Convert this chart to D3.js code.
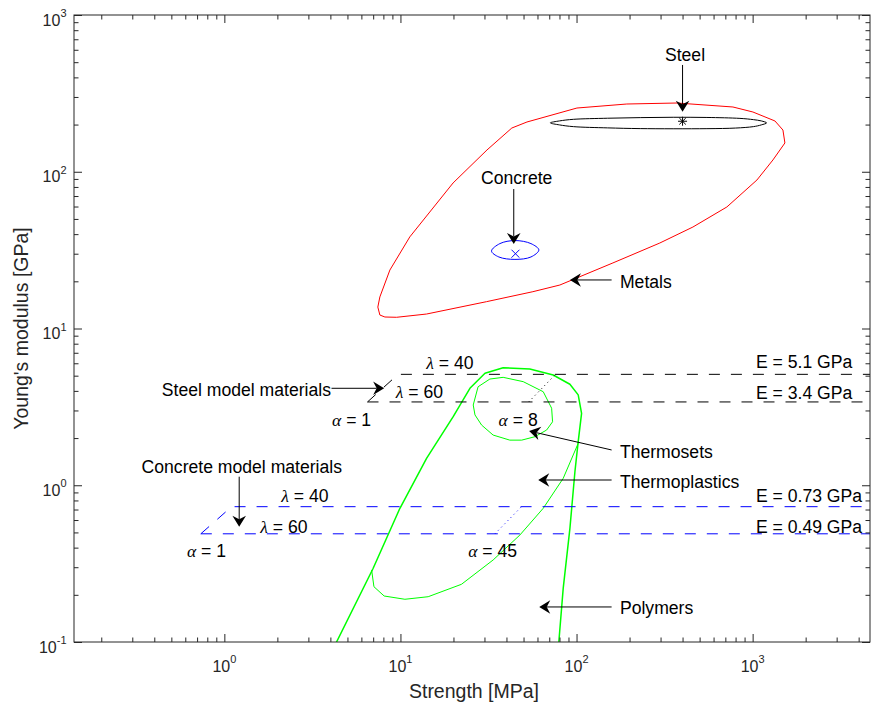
<!DOCTYPE html>
<html>
<head>
<meta charset="utf-8">
<script src="https://cdn.jsdelivr.net/npm/d3@7"></script>
<style>
  html, body { margin: 0; padding: 0; background: #fff; }
  svg { display: block; font-family: "Liberation Sans", Arial, Helvetica, sans-serif; }
</style>
</head>
<body>
<svg id="chart" width="872" height="706"></svg>
<script>
// ---- axis limits and ticks (strength in MPa, Young's modulus in GPa) ----
const xLimits = [0.14, 4640];
const yLimits = [0.1, 1000];
const xMajorTicks = [1, 10, 100, 1000];
const xTickExponents = ["0", "1", "2", "3"];
const yMajorTicks = [0.1, 1, 10, 100, 1000];
const yTickExponents = ["-1", "0", "1", "2", "3"];

// ---- material property regions ----
const metalsStrength = [7.44, 7.64, 8.16, 9.51, 14.07, 30.8, 56.5, 80.4, 160.9, 297, 458, 714, 1058, 1304, 1525, 1486, 1339, 1004, 773, 372, 193, 100.5, 52.3, 42.9, 31.0, 19.9, 11.3, 8.71, 7.64];
const metalsModulus  = [13.7, 12.19, 11.84, 11.79, 12.37, 14.83, 17.17, 18.94, 26.2, 35.1, 44.4, 59.6, 88.6, 118.9, 152.6, 184.6, 210.8, 240.5, 258.9, 274.5, 270.5, 255, 207.7, 190.1, 137.7, 84.8, 38.4, 23.6, 15.9];

const steelRangeStrength = [71, 80, 96, 150, 230, 354, 550, 847, 1010, 1120, 1200, 1120, 1010, 800, 550, 230, 150, 96, 80];
const steelRangeModulus  = [205, 211, 216, 219.5, 221.5, 222.6, 222, 219, 215, 211, 205, 199, 194, 190, 188.3, 188.5, 190.5, 194, 199];

const concreteRangeStrength = [32.9, 36.7, 44.7, 55.1, 61.1, 55.1, 44.7, 36.2];
const concreteRangeModulus  = [31.2, 34.8, 36.4, 34.8, 31.7, 28.6, 27.6, 28.6];

const polymersStrength = [4.2, 7.0, 9.93, 14.07, 19.93, 24.8, 30.2, 38.3, 54.3, 73.7, 91.7, 102.2, 106.8, 102.2, 97.9, 91.7, 84.0, 78.9];
const polymersModulus  = [0.093, 0.2953, 0.713, 1.486, 2.737, 4.155, 5.18, 5.62, 5.51, 5.05, 4.41, 3.77, 2.877, 1.896, 1.22, 0.531, 0.22, 0.093];

const thermosetsStrength = [25.9, 27.6, 32.2, 38.3, 49.8, 64.7, 72.2, 73.1, 67.6, 58.0, 48.8, 41.8, 33.6, 28.9, 26.5];
const thermosetsModulus  = [3.25, 4.25, 4.76, 4.88, 4.58, 3.95, 3.10, 2.54, 2.25, 2.04, 1.94, 1.94, 2.09, 2.42, 2.81];

const thermoplasticsStrength = [6.86, 7.07, 8.08, 10.6, 14.37, 22.2, 33.6, 47.7, 64.7, 84.0, 102.2];
const thermoplasticsModulus  = [0.288, 0.2253, 0.1965, 0.1873, 0.1945, 0.2334, 0.3336, 0.4817, 0.713, 1.107, 1.852];

// ---- reference materials ----
const steelPoint = [400, 210];
const concretePoint = [45, 30];

// ---- model material lines: [lambda = 60, lambda = 40] ----
const steelModelE = [3.4, 5.1];
const steelModelStrengthAlpha1 = [6.5, 9.7];
const steelModelStrengthAlpha8 = [53.5, 76];
const concreteModelE = [0.49, 0.73];
const concreteModelStrengthAlpha1 = [0.735, 1.1];
const concreteModelStrengthAlpha45 = [34.4, 48.7];

// ---- layout ----
const plot = { left: 74, top: 15, right: 870, bottom: 642 };
const axisColor = "#262626";
const green = "#00ff00";

const x = d3.scaleLog().domain(xLimits).range([plot.left, plot.right]);
const y = d3.scaleLog().domain(yLimits).range([plot.bottom, plot.top]);

const svg = d3.select("#chart");
svg.append("rect").attr("width", 872).attr("height", 706).attr("fill", "#fff");

svg.append("defs").append("clipPath").attr("id", "plotClip")
  .append("rect")
  .attr("x", plot.left).attr("y", plot.top)
  .attr("width", plot.right - plot.left).attr("height", plot.bottom - plot.top);

const zip = (a, b) => a.map((v, i) => [v, b[i]]);
const line = d3.line().x(d => x(d[0])).y(d => y(d[1]));

const marks = svg.append("g").attr("clip-path", "url(#plotClip)");

function outline(xs, ys, color, width, curve) {
  marks.append("path")
    .attr("d", line.curve(curve)(zip(xs, ys)))
    .attr("fill", "none")
    .attr("stroke", color)
    .attr("stroke-width", width)
    .attr("stroke-linejoin", "round");
  line.curve(d3.curveLinear);
}

outline(metalsStrength, metalsModulus, "#ff0000", 1, d3.curveLinearClosed);
outline(steelRangeStrength, steelRangeModulus, "#000000", 1, d3.curveCatmullRomClosed);
outline(concreteRangeStrength, concreteRangeModulus, "#0000ff", 1, d3.curveCatmullRomClosed);
outline(polymersStrength, polymersModulus, green, 1.5, d3.curveLinear);
outline(thermosetsStrength, thermosetsModulus, green, 1, d3.curveLinearClosed);
outline(thermoplasticsStrength, thermoplasticsModulus, green, 1, d3.curveLinear);

// model material lines: dashed lambda lines joined by the alpha = 1 edge, dotted upper alpha edge
function modelLines(eVals, sAlpha1, sAlphaHigh, color) {
  const [eLow, eHigh] = eVals;
  const [sLow, sHigh] = sAlpha1;
  const dash = "11,11";
  marks.append("path")
    .attr("d", line([[sLow, eLow], [xLimits[1], eLow]]))
    .attr("fill", "none").attr("stroke", color).attr("stroke-width", 1)
    .attr("stroke-dasharray", dash);
  marks.append("path")
    .attr("d", line([[sLow, eLow], [sHigh, eHigh], [xLimits[1], eHigh]]))
    .attr("fill", "none").attr("stroke", color).attr("stroke-width", 1)
    .attr("stroke-dasharray", dash);
  marks.append("path")
    .attr("d", line([[sAlphaHigh[0], eLow], [sAlphaHigh[1], eHigh]]))
    .attr("fill", "none").attr("stroke", color).attr("stroke-width", 1)
    .attr("stroke-dasharray", "1,3.5");
}
modelLines(steelModelE, steelModelStrengthAlpha1, steelModelStrengthAlpha8, "#000000");
modelLines(concreteModelE, concreteModelStrengthAlpha1, concreteModelStrengthAlpha45, "#0000ff");

// markers
function starMarker(p, color, r) {
  const cx = x(p[0]), cy = y(p[1]), d = r * 0.72;
  const segs = [[-r, 0, r, 0], [0, -r, 0, r], [-d, -d, d, d], [-d, d, d, -d]];
  segs.forEach(s => marks.append("line")
    .attr("x1", cx + s[0]).attr("y1", cy + s[1]).attr("x2", cx + s[2]).attr("y2", cy + s[3])
    .attr("stroke", color).attr("stroke-width", 1));
}
function crossMarker(p, color, r) {
  const cx = x(p[0]), cy = y(p[1]);
  [[-r, -r, r, r], [-r, r, r, -r]].forEach(s => marks.append("line")
    .attr("x1", cx + s[0]).attr("y1", cy + s[1]).attr("x2", cx + s[2]).attr("y2", cy + s[3])
    .attr("stroke", color).attr("stroke-width", 1));
}
starMarker(steelPoint, "#000000", 4.5);
crossMarker(concretePoint, "#0000ff", 4);

// ---- axes ----
const xMinorTicks = [], yMinorTicks = [];
for (let e = -1; e <= 3; e++) {
  for (let m = 2; m <= 9; m++) {
    const v = m * Math.pow(10, e);
    if (v > xLimits[0] && v < xLimits[1]) xMinorTicks.push(v);
    if (v > yLimits[0] && v < yLimits[1]) yMinorTicks.push(v);
  }
}

const axes = svg.append("g");
function tickSet(axisFn, scale, values, size, tx, ty) {
  const gAx = axes.append("g").attr("transform", `translate(${tx},${ty})`)
    .call(axisFn(scale).tickValues(values).tickSize(size).tickFormat(""));
  gAx.select(".domain").remove();
  gAx.selectAll("line").attr("stroke", axisColor);
  return gAx;
}
tickSet(d3.axisBottom, x, xMajorTicks, -8, 0, plot.bottom);
tickSet(d3.axisBottom, x, xMinorTicks, -4.5, 0, plot.bottom);
tickSet(d3.axisTop, x, xMajorTicks, -8, 0, plot.top);
tickSet(d3.axisTop, x, xMinorTicks, -4.5, 0, plot.top);
tickSet(d3.axisLeft, y, yMajorTicks, -8, plot.left, 0);
tickSet(d3.axisLeft, y, yMinorTicks, -4.5, plot.left, 0);
tickSet(d3.axisRight, y, yMajorTicks, -8, plot.right, 0);
tickSet(d3.axisRight, y, yMinorTicks, -4.5, plot.right, 0);

axes.append("rect")
  .attr("x", plot.left).attr("y", plot.top)
  .attr("width", plot.right - plot.left).attr("height", plot.bottom - plot.top)
  .attr("fill", "none").attr("stroke", axisColor).attr("stroke-width", 1);

// tick labels as powers of ten
xMajorTicks.forEach((v, i) => {
  const t = axes.append("text")
    .attr("x", x(v)).attr("y", plot.bottom + 29.7)
    .attr("text-anchor", "middle").attr("fill", axisColor).attr("font-size", 16);
  t.append("tspan").text("10");
  t.append("tspan").attr("dy", -9).attr("font-size", 11).text(xTickExponents[i]);
});
yMajorTicks.forEach((v, i) => {
  const t = axes.append("text")
    .attr("x", plot.left - 7.5).attr("y", y(v) + 10.5)
    .attr("text-anchor", "end").attr("fill", axisColor).attr("font-size", 16);
  t.append("tspan").text("10");
  t.append("tspan").attr("dy", -8.3).attr("font-size", 11).text(yTickExponents[i]);
});

// axis titles
axes.append("text")
  .attr("x", (plot.left + plot.right) / 2 + 2).attr("y", 698.3)
  .attr("text-anchor", "middle").attr("fill", axisColor).attr("font-size", 19.5)
  .text("Strength [MPa]");
axes.append("text")
  .attr("transform", `translate(27.5,${(plot.top + plot.bottom) / 2}) rotate(-90)`)
  .attr("text-anchor", "middle").attr("fill", axisColor).attr("font-size", 19.5)
  .text("Young's modulus [GPa]");

// ---- annotations (placed in data coordinates) ----
const notes = svg.append("g");
const noteSize = 17.6;

function label(sx, ey, parts, anchor) {
  const t = notes.append("text")
    .attr("x", x(sx)).attr("y", y(ey)).attr("dy", "0.35em")
    .attr("text-anchor", anchor || "start")
    .attr("font-size", noteSize).attr("fill", "#000");
  parts.forEach(p => {
    const s = t.append("tspan").text(p.text);
    if (p.greek) s.attr("font-family", "'Liberation Serif', 'DejaVu Serif', serif").attr("font-style", "italic");
  });
}

function arrow(from, to) {
  const x1 = x(from[0]), y1 = y(from[1]), x2 = x(to[0]), y2 = y(to[1]);
  const ang = Math.atan2(y2 - y1, x2 - x1);
  const L = 11, hw = 6.8, notch = 3.5;
  const ca = Math.cos(ang), sa = Math.sin(ang);
  const pt = (a, b) => [x2 + a * ca - b * sa, y2 + a * sa + b * ca];
  notes.append("line")
    .attr("x1", x1).attr("y1", y1)
    .attr("x2", pt(-L + notch, 0)[0]).attr("y2", pt(-L + notch, 0)[1])
    .attr("stroke", "#000").attr("stroke-width", 1);
  const head = [pt(0, 0), pt(-L, hw), pt(-L + notch, 0), pt(-L, -hw)];
  notes.append("path").attr("d", "M" + head.map(p => p.join(",")).join("L") + "Z")
    .attr("fill", "#000").attr("stroke", "none");
}

// reference materials
label(413, 556, [{ text: "Steel" }], "middle");
arrow([400, 480], [400, 241]);
label(45.7, 91.6, [{ text: "Concrete" }], "middle");
arrow([44, 77.6], [44, 34.6]);
label(176.4, 19.8, [{ text: "Metals" }]);
arrow([158.2, 20.4], [91.7, 20.4]);

// polymer families
label(176.4, 1.637, [{ text: "Thermosets" }]);
arrow([158.2, 1.679], [53.8, 2.219]);
label(176.4, 1.053, [{ text: "Thermoplastics" }]);
arrow([158.2, 1.08], [60.6, 1.08]);
label(176.4, 0.1655, [{ text: "Polymers" }]);
arrow([158.2, 0.1673], [61.4, 0.1673]);

// model materials
label(4.03, 4.05, [{ text: "Steel model materials" }], "end");
arrow([4.06, 4.155], [8.08, 4.155]);
label(0.3387, 1.313, [{ text: "Concrete model materials" }]);
arrow([1.214, 1.134], [1.214, 0.544]);

label(19.1, 6.0, [{ text: "λ", greek: true }, { text: " = 40" }], "middle");
label(12.8, 3.92, [{ text: "λ", greek: true }, { text: " = 60" }], "middle");
label(5.28, 2.61, [{ text: "α", greek: true }, { text: " = 1" }], "middle");
label(46.6, 2.61, [{ text: "α", greek: true }, { text: " = 8" }], "middle");
label(2.87, 0.854, [{ text: "λ", greek: true }, { text: " = 40" }], "middle");
label(2.18, 0.539, [{ text: "λ", greek: true }, { text: " = 60" }], "middle");
label(0.792, 0.3806, [{ text: "α", greek: true }, { text: " = 1" }], "middle");
label(33.4, 0.3806, [{ text: "α", greek: true }, { text: " = 45" }], "middle");

label(1044, 6.14, [{ text: "E = 5.1 GPa" }]);
label(1044, 3.894, [{ text: "E = 3.4 GPa" }]);
label(1044, 0.858, [{ text: "E = 0.73 GPa" }]);
label(1044, 0.544, [{ text: "E = 0.49 GPa" }]);
</script>
</body>
</html>
